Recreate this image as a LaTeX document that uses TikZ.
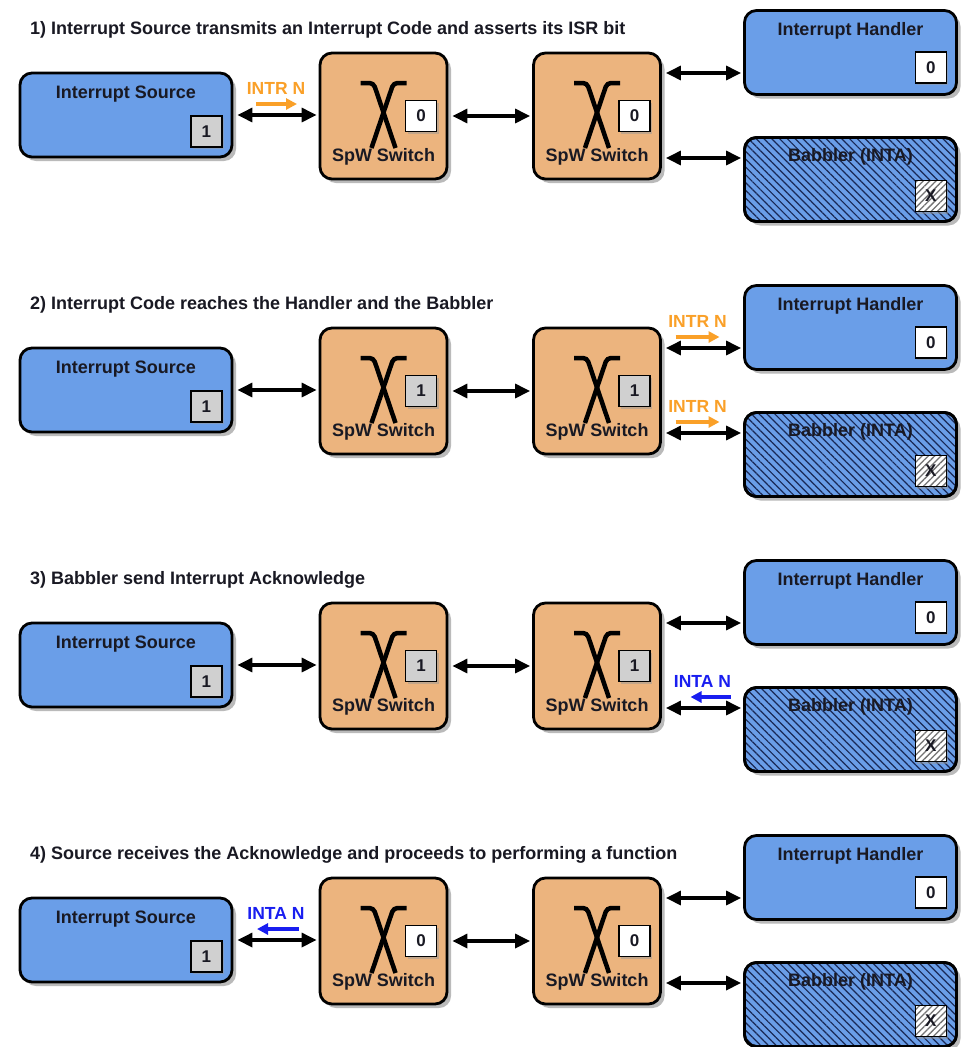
\documentclass[tikz,border=0pt]{standalone}
\usepackage{fontspec}
\setmainfont{Liberation Sans}
\usetikzlibrary{arrows.meta,calc,shadows,patterns.meta}
\definecolor{boxblue}{RGB}{106,158,232}
\definecolor{swor}{RGB}{236,180,126}
\definecolor{hatchcol}{RGB}{25,40,85}
\definecolor{bitgray}{RGB}{208,208,208}
\definecolor{sigorange}{RGB}{250,160,40}
\definecolor{sigblue}{RGB}{25,30,240}
\definecolor{textcol}{RGB}{25,25,35}
\tikzset{
 box/.style={draw=black, line width=2.8pt, rounded corners=12pt, inner sep=0pt,
   drop shadow={shadow xshift=4pt,shadow yshift=-4pt,fill=black!45,opacity=0.6}},
 srcbox/.style={box, fill=boxblue, minimum width=212pt, minimum height=84pt},
 babbox/.style={srcbox, postaction={pattern={Lines[angle=-45,distance=5.5pt,line width=1.2pt]}, pattern color=hatchcol},
   postaction={draw=black, line width=2.8pt, rounded corners=12pt}},
 swbox/.style={box, fill=swor, minimum width=127pt, minimum height=126pt},
 txt/.style={font=\bfseries\fontsize{18}{21}\selectfont, text=textcol, inner sep=0pt},
 titletxt/.style={font=\bfseries\fontsize{18}{21}\selectfont, text=textcol, inner sep=0pt, anchor=west},
 bit/.style={draw=black, line width=1.6pt, minimum size=31pt, inner sep=0pt, font=\bfseries\fontsize{17}{20}\selectfont, text=textcol,
   drop shadow={shadow xshift=2pt,shadow yshift=-2pt,fill=black!40,opacity=0.5}},
 bitg/.style={bit, fill=bitgray},
 bitw/.style={bit, fill=white},
 bitx/.style={bit, fill=white, postaction={pattern={Lines[angle=45,distance=4.5pt,line width=1.3pt]}, pattern color=black!55},
   postaction={draw=black, line width=1.6pt}},
 link/.style={line width=3.2pt, {Triangle[length=15pt,width=14pt]}-{Triangle[length=15pt,width=14pt]}, shorten <=4pt, shorten >=2pt},
 sigarrow/.style={line width=3.6pt, -{Triangle[length=11pt,width=11pt]}},
 xglyph/.style={line width=4.5pt, rounded corners=4pt},
 lbl/.style={font=\bfseries\fontsize{17.5}{20}\selectfont, inner sep=0pt},
}
\newcommand\drawpanel[5]{%
\node[titletxt] (#2t) at (30,{30+#1}) {#3};
\node[srcbox] (#2src) at (126,{115+#1}) {};
\node[txt] (#2srcl) at ($(#2src.center)+(0,-21)$) {Interrupt Source};
\node[bitg] (#2srcb) at ($(#2src.east)+(-27,16.5)$) {1};
\node[swbox] (#2swa) at (383.5,{116+#1}) {};
\node[swbox] (#2swb) at (597,{116+#1}) {};
\node[srcbox] (#2h) at (850.5,{52.5+#1}) {};
\node[txt] (#2hl) at ($(#2h.center)+(0,-21.5)$) {Interrupt Handler};
\node[bitw] (#2hb) at ($(#2h.east)+(-27,15)$) {0};
\node[babbox] (#2b) at (850.5,{179.5+#1}) {};
\node[txt] (#2bl) at ($(#2b.center)+(0,-22.5)$) {Babbler (INTA)};
\node[bitx] (#2bb) at ($(#2b.east)+(-27,16.5)$) {X};
\foreach \s in {swa,swb}{
 \draw[xglyph] ($(#2\s.center)+(-23,-33)$) -- ($(#2\s.center)+(-10,-33)$) -- ($(#2\s.center)+(12,32)$);
 \draw[xglyph] ($(#2\s.center)+(23,-33)$) -- ($(#2\s.center)+(10,-33)$) -- ($(#2\s.center)+(-12,32)$);
 \node[txt] (#2\s l) at ($(#2\s.center)+(0,41)$) {SpW Switch};
 \node[#5] (#2\s b) at ($(#2\s.center)+(37.5,0)$) {#4};
}
\draw[link] (#2src.east) -- (#2src.east -| #2swa.west);
\draw[link] (#2swa.east) -- (#2swb.west);
\coordinate (#2ph) at ($(#2swb.east)+(0,-43)$);
\coordinate (#2pb) at ($(#2swb.east)+(0,42)$);
\draw[link] (#2ph) -- (#2ph -| #2h.west);
\draw[link] (#2pb) -- (#2pb -| #2b.west);
\coordinate (#2m1) at ($(#2src.east)!0.5!(#2src.east -| #2swa.west)$);
\coordinate (#2m2) at ($(#2ph)!0.5!(#2ph -| #2h.west)$);
\coordinate (#2m3) at ($(#2pb)!0.5!(#2pb -| #2b.west)$);
}
\begin{document}
\begin{tikzpicture}[x=1pt,y=-1pt]
\useasboundingbox[fill=white] (0,0) rectangle (963,1047);
\drawpanel{0}{p1}{1) Interrupt Source transmits an Interrupt Code and asserts its ISR bit}{0}{bitw}
\drawpanel{275}{p2}{2) Interrupt Code reaches the Handler and the Babbler}{1}{bitg}
\drawpanel{550}{p3}{3) Babbler send Interrupt Acknowledge}{1}{bitg}
\drawpanel{825}{p4}{4) Source receives the Acknowledge and proceeds to performing a function}{0}{bitw}
% panel 1 signal
\node[lbl, text=sigorange] (s1) at ($(p1m1)+(0,-27)$) {INTR N};
\draw[sigarrow, sigorange] ($(p1m1)+(-20,-11)$) -- ($(p1m1)+(21,-11)$);
% panel 2 signals
\node[lbl, text=sigorange] (s2a) at ($(p2m2)+(-5,-27)$) {INTR N};
\draw[sigarrow, sigorange] ($(p2m2)+(-27,-11)$) -- ($(p2m2)+(17,-11)$);
\node[lbl, text=sigorange] (s2b) at ($(p2m3)+(-5,-27)$) {INTR N};
\draw[sigarrow, sigorange] ($(p2m3)+(-27,-11)$) -- ($(p2m3)+(17,-11)$);
% panel 3 signal
\node[lbl, text=sigblue] (s3) at ($(p3m3)+(0,-27)$) {INTA N};
\draw[sigarrow, sigblue] ($(p3m3)+(28,-11)$) -- ($(p3m3)+(-12,-11)$);
% panel 4 signal
\node[lbl, text=sigblue] (s4) at ($(p4m1)+(0,-27)$) {INTA N};
\draw[sigarrow, sigblue] ($(p4m1)+(23,-11)$) -- ($(p4m1)+(-19,-11)$);
\end{tikzpicture}
\end{document}
